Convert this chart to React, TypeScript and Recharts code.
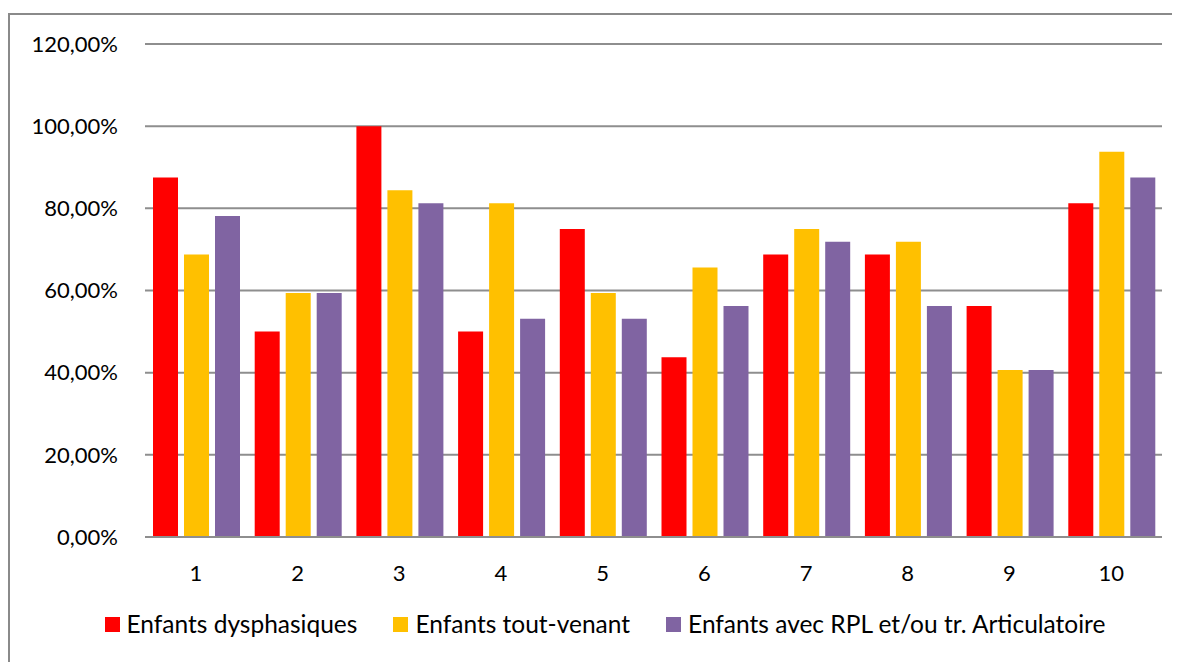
import { BarChart, Bar, XAxis, YAxis, CartesianGrid, Legend } from "recharts";

const categories = ["1", "2", "3", "4", "5", "6", "7", "8", "9", "10"];
const dysphasiques = [87.5, 50, 100, 50, 75, 43.75, 68.75, 68.75, 56.25, 81.25];
const toutVenant = [68.75, 59.375, 84.375, 81.25, 59.375, 65.625, 75, 71.875, 40.625, 93.75];
const rplArticulatoire = [78.125, 59.375, 81.25, 53.125, 53.125, 56.25, 71.875, 56.25, 40.625, 87.5];
const yTicks = [0, 20, 40, 60, 80, 100, 120];

const SERIES = [
  { key: "dys", name: "Enfants dysphasiques", color: "#FF0000" },
  { key: "tv", name: "Enfants tout-venant", color: "#FFC000" },
  { key: "rpl", name: "Enfants avec RPL et/ou tr. Articulatoire", color: "#8064A2" },
];

const data = categories.map((c, i) => ({
  cat: c,
  dys: dysphasiques[i],
  tv: toutVenant[i],
  rpl: rplArticulatoire[i],
}));

const FONT = "Lato, 'Open Sans', sans-serif";

function pct(v: number) {
  return v.toFixed(2).replace(".", ",") + "%";
}

function LegendBox() {
  return (
    <div
      style={{
        height: 50,
        display: "flex",
        justifyContent: "center",
        alignItems: "flex-start",
        paddingTop: 5,
        paddingLeft: 38,
        boxSizing: "border-box",
        fontFamily: FONT,
        fontSize: 24.5,
        lineHeight: "30px",
        color: "#000",
      }}
    >
      {SERIES.map((s) => (
        <div key={s.key} style={{ display: "flex", alignItems: "center", margin: "0 18px" }}>
          <span style={{ width: 15, height: 15, background: s.color, marginRight: 7, display: "inline-block" }} />
          <span>{s.name}</span>
        </div>
      ))}
    </div>
  );
}

export default function App() {
  return (
    <div
      style={{
        marginTop: 5,
        width: 1180,
        height: 649,
        borderTop: "2px solid #8a8a8a",
        borderLeft: "2px solid #8a8a8a",
        background: "#fff",
      }}
    >
      <style>{"html,body{overflow:hidden}"}</style>
      <BarChart
        width={1178}
        height={639}
        data={data}
        margin={{ top: 29, right: 26, bottom: 0, left: 0 }}
        barCategoryGap={8}
        barGap={6}
      >
        <CartesianGrid vertical={false} stroke="#8e8e8e" strokeWidth={2} />
        <XAxis
          dataKey="cat"
          height={67}
          tickLine={false}
          tickSize={0}
          tickMargin={28}
          axisLine={{ stroke: "#8e8e8e", strokeWidth: 2 }}
          tick={{ fontSize: 22, fill: "#000", fontFamily: FONT }}
        />
        <YAxis
          width={135}
          domain={[0, 120]}
          ticks={yTicks}
          tickFormatter={pct}
          axisLine={false}
          tickLine={false}
          tickSize={0}
          tickMargin={27}
          tick={{ fontSize: 22, fill: "#000", fontFamily: FONT }}
        />
        <Legend verticalAlign="bottom" content={() => <LegendBox />} />
        {SERIES.map((s) => (
          <Bar key={s.key} dataKey={s.key} name={s.name} fill={s.color} isAnimationActive={false} />
        ))}
      </BarChart>
    </div>
  );
}
